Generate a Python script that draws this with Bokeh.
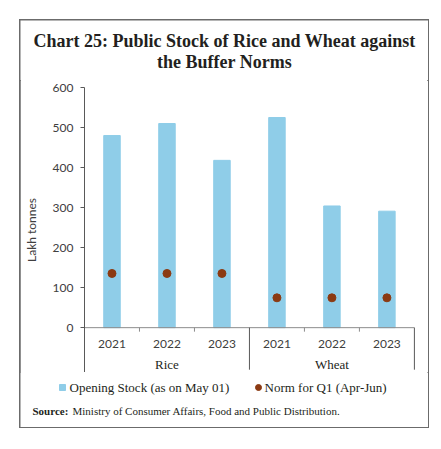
from bokeh.plotting import figure
from bokeh.layouts import column
from bokeh.models import Range1d, FixedTicker
from bokeh.core.properties import value
from bokeh.embed import file_html
from bokeh.resources import INLINE

# ---- data ----
groups = ["Rice", "Wheat"]
years = ["2021", "2022", "2023"]
opening_stock = [480, 510, 418, 525, 304, 291]         # Lakh tonnes, as on May 01
buffer_norm = [135.4, 135.4, 135.4, 74.6, 74.6, 74.6]  # Norm for Q1 (Apr-Jun)
y_ticks = [0, 100, 200, 300, 400, 500, 600]

title_lines = ["Chart 25: Public Stock of Rice and Wheat against", "the Buffer Norms"]
series_names = ["Opening Stock (as on May 01)", "Norm for Q1 (Apr-Jun)"]
source_bold = "Source:"
source_text = "Ministry of Consumer Affairs, Food and Public Distribution."
y_label = "Lakh tonnes"

# ---- derived positions ----
n_years = len(years)
n = len(opening_stock)
x_pos = [i + 0.5 for i in range(n)]
year_labels = years * len(groups)
group_centers = [g * n_years + n_years / 2 for g in range(len(groups))]
inner_ticks = [g * n_years + k for g in range(len(groups)) for k in range(1, n_years)]
separators = [(g + 1) * n_years for g in range(len(groups))]

BAR = "#8fcde8"
DOT = "#8b3a12"
SANS = value("Lato")
SERIF = value("Liberation Serif")
TXT = "#231f20"
W = 408


def no_frame_align(f):
    if "frame_align" in f.properties():
        f.frame_align = False


def strip(h):
    f = figure(width=W, height=h, x_range=Range1d(0, W), y_range=Range1d(h, 0),
               x_axis_location=None, y_axis_location=None,
               output_backend="svg", toolbar_location=None, min_border=0)
    f.outline_line_color = None
    f.grid.grid_line_color = None
    no_frame_align(f)
    return f


# ---- title strip ----
T = strip(60)
T.text(x=[204, 204], y=[20, 41], text=title_lines, text_align="center",
       text_baseline="middle", text_font=SERIF, text_font_style="bold",
       text_font_size="18px", text_color=TXT)

# ---- chart ----
y_bottom = -112
sep_bottom = -105
p = figure(width=W, height=292,
           x_range=Range1d(0, n + 0.02), y_range=Range1d(y_bottom, 600),
           x_axis_location=None,
           output_backend="svg", toolbar_location=None,
           min_border_left=63, min_border_right=13,
           min_border_top=7, min_border_bottom=0)
p.outline_line_color = None
p.grid.grid_line_color = None
no_frame_align(p)

ya = p.yaxis[0]
ya.ticker = FixedTicker(ticks=y_ticks)
ya.major_tick_in = 0
ya.major_tick_out = 4
ya.minor_tick_line_color = None
ya.axis_line_color = "#595959"
ya.major_tick_line_color = "#595959"
ya.major_label_text_font = "Lato"
ya.major_label_text_font_size = "12px"
ya.major_label_text_color = "#404040"
ya.major_label_standoff = 7
ya.axis_label = y_label
ya.axis_label_text_font = "Lato"
ya.axis_label_text_font_size = "12px"
ya.axis_label_text_font_style = "normal"
ya.axis_label_text_color = "#404040"
ya.axis_label_standoff = 11

p.vbar(x=x_pos, top=opening_stock, bottom=0, width=0.3, fill_color=BAR, line_color=BAR)
p.scatter(x=x_pos, y=buffer_norm, size=8, fill_color=DOT, line_color=DOT)

# x axis line, inner ticks, group separators
p.segment(x0=[0], y0=[0], x1=[n], y1=[0], line_color="#8c8c8c", line_width=1)
p.segment(x0=inner_ticks, y0=[0] * len(inner_ticks), x1=inner_ticks,
          y1=[-10] * len(inner_ticks), line_color="#8c8c8c", line_width=1)
p.segment(x0=separators, y0=[0] * len(separators), x1=separators,
          y1=[sep_bottom] * len(separators), line_color="#595959", line_width=1)

p.text(x=x_pos, y=[-40] * n, text=year_labels, text_align="center",
       text_baseline="middle", text_font=SANS, text_font_size="12px",
       text_color="#404040")
p.text(x=group_centers, y=[-92] * len(groups), text=groups, text_align="center",
       text_baseline="middle", text_font=SERIF, text_font_size="13px",
       text_color=TXT)

# ---- legend + source strip ----
B = strip(55)
B.scatter(x=[42], y=[15], marker="square", size=6, fill_color=BAR, line_color=BAR)
B.scatter(x=[238], y=[15], size=6, fill_color=DOT, line_color=DOT)
B.text(x=[49, 244], y=[15, 15], text=series_names, text_align="left",
       text_baseline="middle", text_font=SERIF, text_font_size="13px", text_color=TXT)
B.text(x=[12], y=[38], text=[source_bold], text_align="left", text_baseline="middle",
       text_font=SERIF, text_font_style="bold", text_font_size="11px", text_color=TXT)
B.text(x=[52], y=[38], text=[source_text], text_align="left", text_baseline="middle",
       text_font=SERIF, text_font_size="11px", text_color=TXT)

layout = column(T, p, B, spacing=0, margin=(20, 0, 0, 20),
                styles={"outline": "2px solid #6b6b6b", "outline-offset": "-1px"})

open("out.html", "w").write(file_html(layout, INLINE))
